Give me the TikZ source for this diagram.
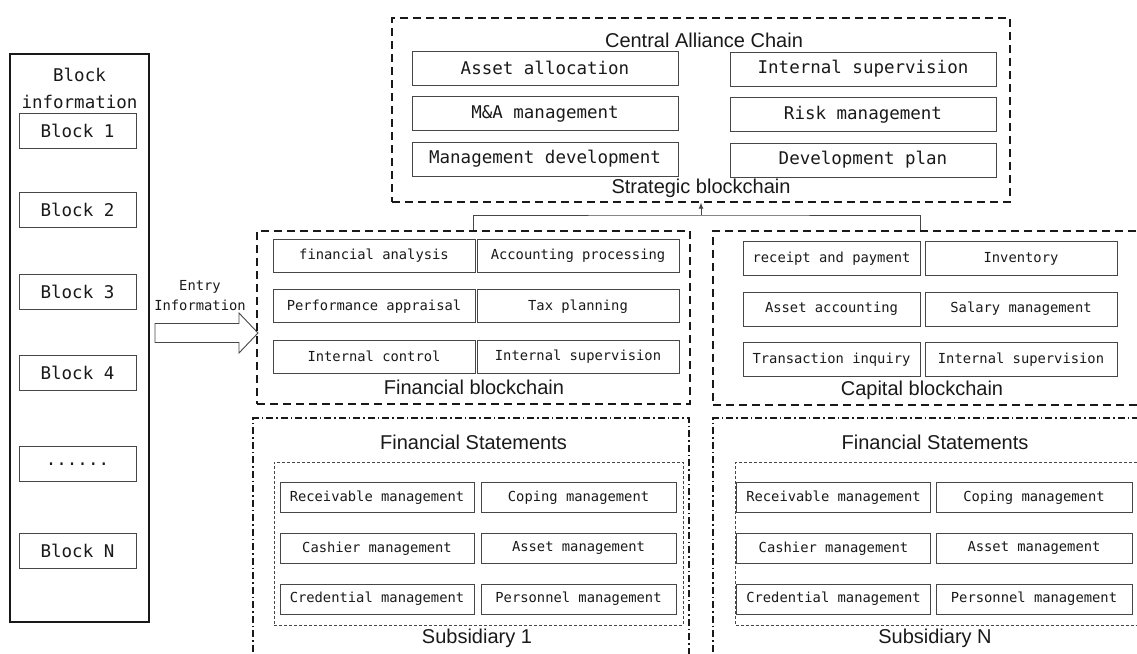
\documentclass[tikz,border=0pt]{standalone}
\usepackage{fontspec}
\setmainfont{Liberation Sans}
\setmonofont{DejaVu Sans Mono}
\usepackage{tikz}
\usetikzlibrary{arrows.meta}
\definecolor{gris}{RGB}{70,70,70}
\definecolor{encre}{RGB}{25,25,25}
\newcommand\sixpoints{......}

\begin{document}
\begin{tikzpicture}[x=1pt, y=-1pt, font=\fontsize{20}{24}\selectfont, text=encre,
  cell/.style={draw=gris, line width=0.9pt, inner sep=0pt, font=\ttfamily\fontsize{13.8}{16}\selectfont},
  bigcell/.style={cell, font=\ttfamily\fontsize{17.5}{21}\selectfont},
  chain/.style={draw=encre, line width=1.4pt, dash pattern=on 8pt off 5pt, inner sep=0pt},
  filiale/.style={draw=encre, line width=1.2pt, dash pattern=on 7pt off 3pt on 1.5pt off 3pt, inner sep=0pt},
  etats/.style={draw=gris, line width=0.7pt, dash pattern=on 3pt off 2pt, inner sep=0pt}]
\useasboundingbox (0,0) rectangle (1137,653);
\clip (0,0) rectangle (1137,653);

% block list on the left
\node[draw=encre, line width=1.8pt, minimum width=139pt, minimum height=568pt] (panel) at (79.5,338) {};
\node[font=\ttfamily\fontsize{17.5}{27}\selectfont, align=center] (titre) at (79.5,88.5) {Block\\information};
\foreach \lab/\yy [count=\i] in {Block 1/131, Block 2/210, Block 3/292, Block 4/373, \sixpoints/464, Block N/551}{%
  \node[bigcell, minimum width=117pt, minimum height=35pt] (b\i) at (77.5,\yy) {\lab};}

% entry arrow
\node[font=\ttfamily\fontsize{13.8}{20}\selectfont, align=center] (entreelab) at (200,296) {Entry\\Information};
\coordinate (queue) at (155,333);
\draw[gris, line width=0.9pt, fill=white] (queue) ++(0,-9.5) -- ++(84,0) -- ++(0,-10.5) -- ++(19,20)
  -- ++(-19,20) -- ++(0,-10.5) -- ++(-84,0) -- cycle;

% central alliance chain
\node[chain, minimum width=618pt, minimum height=184pt] (centrale) at (701,110) {};
\node (tcentrale) at (704,40) {Central Alliance Chain};
\node (bcentrale) at (701,188) {Strategic blockchain};
\foreach \g/\d [count=\i from 0] in {Asset allocation/Internal supervision,
  M\&A management/Risk management, Management development/Development plan}{%
  \node[bigcell, minimum width=266pt, minimum height=34pt] (cg\i) at (545,{68+45.5*\i}) {\g};
  \node[bigcell, minimum width=266pt, minimum height=34pt] (cd\i) at (863,{69+45.5*\i}) {\d};}

% financial and capital chains
\node[chain, minimum width=433pt, minimum height=173pt] (fin) at (473.5,317.5) {};
\node (bfin) at (474,387) {Financial blockchain};
\foreach \g/\d [count=\i from 0] in {financial analysis/Accounting processing,
  Performance appraisal/Tax planning, Internal control/Internal supervision}{%
  \node[cell, minimum width=202pt, minimum height=33pt] (fg\i) at (374,{256+50.25*\i}) {\g};
  \node[cell, minimum width=202pt, minimum height=33pt] (fd\i) at (578,{256+50.25*\i}) {\d};}

\node[chain, minimum width=430pt, minimum height=174pt] (cap) at (928,318) {};
\node (bcap) at (922,390) {Capital blockchain};
\foreach \g/\d [count=\i from 0] in {receipt and payment/Inventory,
  Asset accounting/Salary management, Transaction inquiry/Internal supervision}{%
  \node[cell, minimum width=177pt, minimum height=34pt] (kg\i) at (831.5,{258.5+50.5*\i}) {\g};
  \node[cell, minimum width=192pt, minimum height=34pt] (kd\i) at (1021,{258.5+50.5*\i}) {\d};}

\coordinate (bus) at (centrale.south |- 0,215);
\draw[gris, line width=0.9pt] (fin.north) |- (bus) -| (kg0.east |- cap.north);
\draw[gris, line width=0.9pt, -{Latex[length=6pt,width=5pt]}] (bus) -- (centrale.south);

% subsidiaries
\foreach \n/\xo/\xe/\xl/\xr/\xs/\wr in {1/471/478.5/377/578.5/477/195, N/931/940/833.5/1034/935/196}{%
  \node[filiale, minimum width=436pt, minimum height=250pt] (fil\n) at (\xo,543) {};
  \node (tfil\n) at (\xe-5,442) {Financial Statements};
  \node[etats, minimum width=409pt, minimum height=163pt] (et\n) at (\xe,543.5) {};
  \node (bfil\n) at (\xs,638) {Subsidiary \n};
  \foreach \g/\d [count=\i from 0] in {Receivable management/Coping management,
    Cashier management/Asset management, Credential management/Personnel management}{%
    \node[cell, minimum width=194pt, minimum height=30pt] (s\n g\i) at (\xl,{497.5+50.75*\i}) {\g};
    \node[cell, minimum width=\wr pt, minimum height=30pt] (s\n d\i) at (\xr,{497.5+50.75*\i}) {\d};}}
\end{tikzpicture}
\end{document}
